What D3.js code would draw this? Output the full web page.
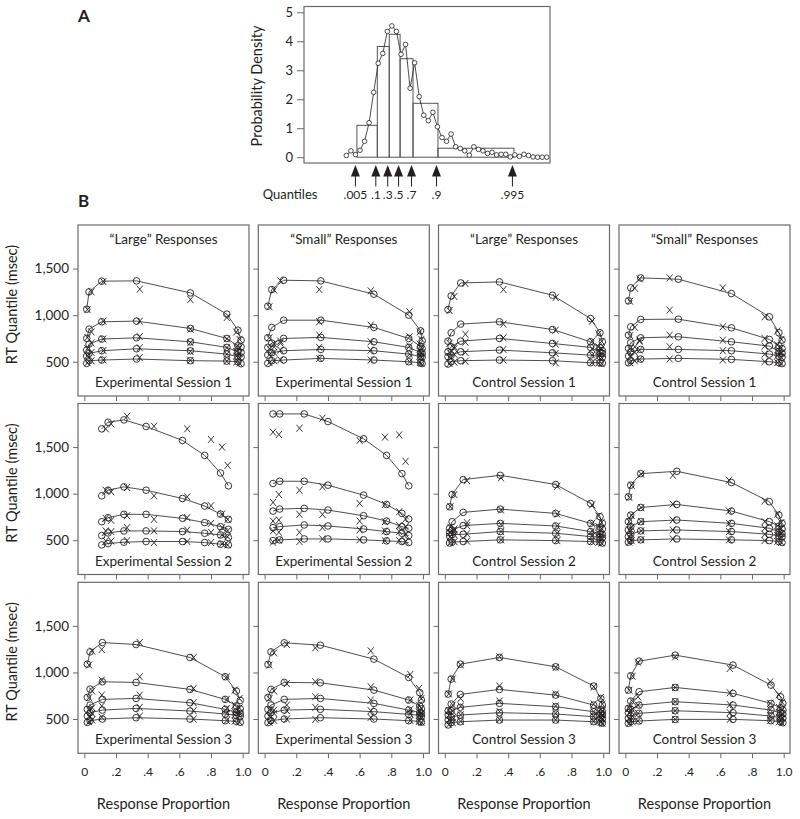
<!DOCTYPE html>
<html><head><meta charset="utf-8">
<script src="https://cdn.jsdelivr.net/npm/d3@7"></script>
<style>
body{margin:0;background:#fff}
text{font-family:Lato,"Open Sans",sans-serif;fill:#231f20}
</style>
</head><body>
<svg id="chart" width="800" height="819"></svg>
<script>
// ---------- Panel A data ----------
const densityRT = d3.range(45).map(i => 450 + 50 * i); // bin centres (ms)
const densityValues = [0.06,0.22,0.09,0.24,0.55,1.19,2.24,3.24,3.58,4.34,4.53,4.34,3.55,3.89,2.38,3.26,2.09,1.45,1.26,1.55,1.05,0.68,0.55,0.8,0.36,0.3,0.22,0.07,0.36,0.27,0.22,0.13,0.17,0.08,0.1,0.1,0.01,0.08,0.03,0.1,0.06,0.01,0,0,0];
const quantileRT = [566, 790, 921, 1040, 1182, 1456, 2290];
const quantileLabels = [".005", ".1", ".3", ".5", ".7", ".9", ".995"];
const histHeights = [1.1, 3.82, 4.24, 3.4, 1.86, 0.31];
const densityTicks = [0, 1, 2, 3, 4, 5];

// ---------- Panel B data (model = circles + lines, data = x marks) ----------
// quantile rows: .1, .3, .5, .7, .9
const expS1LargeModelP = [0.015,0.03,0.11,0.33,0.67,0.9,0.97,0.99];
const expS1LargeModelQ = [[482,511,518,529,511,507,500,478],[560,589,618,639,618,582,554,550],[625,689,743,757,714,654,605,600],[750,850,929,936,857,750,670,660],[1064,1250,1365,1368,1239,1011,839,732]];
const expS1LargeDataP = [0.02,0.045,0.12,0.35,0.67,0.9,0.96,0.98];
const expS1LargeDataQ = [[490,510,520,545,515,505,495,485],[565,600,620,650,610,580,560,545],[640,700,745,770,705,650,610,590],[760,820,935,936,850,745,660,650],[1060,1250,1360,1279,1168,975,818,740]];

const expS1SmallModelP = [0.02,0.045,0.12,0.355,0.69,0.91,0.985,0.995];
const expS1SmallModelQ = [[482,511,518,536,518,500,490,480],[571,596,618,632,618,582,555,550],[654,700,750,761,714,654,600,590],[757,868,946,946,868,750,665,640],[1096,1275,1375,1368,1225,1000,832,725]];
const expS1SmallDataP = [0.03,0.06,0.1,0.345,0.67,0.915,0.98,0.99];
const expS1SmallDataQ = [[490,510,520,536,518,500,490,480],[575,600,625,654,625,582,560,550],[640,660,700,786,714,668,610,595],[757,690,720,929,893,768,690,650],[1090,1270,1370,1275,1261,1036,821,740]];

const ctlS1LargeModelP = [0.02,0.04,0.1,0.345,0.68,0.92,0.98,0.995];
const ctlS1LargeModelQ = [[475,500,511,518,511,489,490,485],[554,571,607,625,596,571,555,550],[607,661,721,750,696,654,600,590],[721,811,904,929,846,714,650,620],[1061,1207,1346,1357,1214,964,811,714]];
const ctlS1LargeDataP = [0.03,0.06,0.13,0.37,0.7,0.93,0.97,0.99];
const ctlS1LargeDataQ = [[480,495,505,518,489,490,485,480],[550,580,600,632,589,570,560,545],[600,640,710,757,689,640,610,590],[700,661,796,904,839,720,660,640],[1050,1200,1340,1275,1189,935,800,720]];

const ctlS1SmallModelP = [0.02,0.034,0.097,0.335,0.67,0.91,0.97,0.99];
const ctlS1SmallModelQ = [[489,511,529,536,525,500,490,480],[561,607,632,632,618,582,560,550],[643,704,757,768,714,668,610,590],[786,875,954,957,864,739,670,640],[1154,1293,1400,1386,1232,982,811,732]];
const ctlS1SmallDataP = [0.03,0.06,0.09,0.28,0.616,0.88,0.96,0.985];
const ctlS1SmallDataQ = [[490,510,525,529,518,500,490,480],[560,600,625,661,618,582,565,550],[640,661,720,786,732,668,615,595],[780,870,732,1054,875,750,680,650],[1150,1290,1390,1400,1293,982,830,740]];

const expS2LargeModelP = [0.11,0.15,0.25,0.39,0.62,0.76,0.86,0.91];
const expS2LargeModelQ = [[450,464,479,486,486,475,457,450],[550,578,600,600,593,575,557,528],[699,742,778,778,735,689,646,617],[977,1037,1073,1037,948,867,781,724],[1696,1767,1792,1721,1571,1411,1222,1084]];
const expS2LargeDataP = [0.135,0.17,0.27,0.44,0.65,0.8,0.87,0.905];
const expS2LargeDataQ = [[493,493,496,475,486,475,461,450],[600,593,635,600,610,585,557,539],[735,713,763,724,742,681,635,600],[1037,1020,1066,977,966,870,781,724],[1696,1749,1831,1724,1696,1582,1500,1304]];

const expS2SmallModelP = [0.053,0.095,0.25,0.40,0.625,0.77,0.867,0.91];
const expS2SmallModelQ = [[496,504,514,514,504,493,486,475],[635,646,664,653,621,593,575,550],[813,835,842,824,763,706,646,628],[1109,1133,1133,1091,984,884,788,728],[1856,1856,1856,1774,1589,1411,1215,1084]];
const expS2SmallDataP = [0.053,0.09,0.22,0.365,0.6,0.76,0.85,0.89];
const expS2SmallDataQ = [[479,500,486,514,504,496,496,486],[600,585,585,635,610,600,593,564],[706,717,778,778,706,699,657,646],[906,991,1037,1073,895,884,806,728],[1660,1635,1703,1810,1571,1607,1631,1347]];

const ctlS2LargeModelP = [0.03,0.046,0.116,0.35,0.70,0.92,0.98,0.995];
const ctlS2LargeModelQ = [[470,480,486,504,496,486,480,470],[545,560,564,593,575,539,530,525],[580,610,657,681,653,593,570,560],[628,699,799,834,788,681,640,620],[859,991,1151,1197,1098,895,753,681]];
const ctlS2LargeDataP = [0.035,0.06,0.14,0.355,0.71,0.93,0.97,0.99];
const ctlS2LargeDataQ = [[475,485,490,504,496,486,478,470],[540,560,570,593,575,545,535,525],[580,605,657,671,653,600,575,560],[640,620,689,824,781,680,645,625],[860,990,1140,1170,1080,880,760,690]];

const ctlS2SmallModelP = [0.019,0.034,0.097,0.325,0.67,0.91,0.97,0.99];
const ctlS2SmallModelQ = [[479,496,504,514,504,496,485,475],[539,564,600,610,593,564,545,535],[610,646,699,717,681,628,590,570],[699,770,852,884,813,699,650,620],[966,1091,1215,1240,1119,913,770,681]];
const ctlS2SmallDataP = [0.025,0.04,0.1,0.3,0.655,0.88,0.96,0.985];
const ctlS2SmallDataQ = [[480,495,505,514,504,496,488,478],[540,560,600,610,593,564,548,538],[610,640,700,717,681,628,595,575],[700,765,850,888,813,699,655,625],[960,1090,1210,1197,1144,920,780,690]];

const expS3LargeModelP = [0.019,0.036,0.114,0.327,0.667,0.89,0.96,0.985];
const expS3LargeModelQ = [[464,482,500,514,500,482,475,465],[532,568,596,614,586,554,540,530],[604,650,711,721,675,604,575,560],[732,821,900,893,818,711,640,610],[1089,1221,1321,1300,1161,954,800,700]];
const expS3LargeDataP = [0.03,0.05,0.11,0.35,0.69,0.9,0.95,0.98];
const expS3LargeDataQ = [[470,490,520,532,500,485,478,468],[530,560,640,625,589,560,545,535],[600,620,757,757,675,614,580,565],[730,800,918,954,829,711,650,620],[1080,1230,1246,1321,1161,954,811,720]];

const expS3SmallModelP = [0.021,0.04,0.124,0.352,0.69,0.91,0.98,0.99];
const expS3SmallModelQ = [[461,482,500,514,500,482,475,465],[532,568,596,604,579,550,540,530],[604,650,711,721,668,596,570,560],[732,818,893,889,811,704,640,610],[1086,1221,1318,1293,1143,946,782,704]];
const expS3SmallDataP = [0.03,0.06,0.14,0.32,0.67,0.92,0.975,0.99];
const expS3SmallDataQ = [[465,485,500,496,518,485,475,465],[530,560,590,625,589,555,540,530],[600,596,650,739,704,604,575,560],[720,800,880,900,846,704,650,615],[1080,1210,1300,1264,1232,979,829,720]];

const ctlS3LargeModelP = [0.021,0.04,0.098,0.345,0.7,0.94,0.985,0.995];
const ctlS3LargeModelQ = [[436,461,471,489,489,471,465,455],[489,518,543,568,554,525,510,505],[543,589,625,668,632,579,555,545],[589,661,764,818,757,650,600,580],[768,929,1089,1161,1061,854,721,650]];
const ctlS3LargeDataP = [0.025,0.05,0.1,0.345,0.7,0.94,0.985,0.995];
const ctlS3LargeDataQ = [[440,460,475,496,492,472,465,455],[490,515,545,580,560,528,512,505],[540,585,640,693,640,580,558,548],[590,650,721,854,768,661,605,585],[770,930,1080,1168,1054,846,732,660]];

const ctlS3SmallModelP = [0.019,0.034,0.087,0.315,0.68,0.92,0.98,0.995];
const ctlS3SmallModelQ = [[454,471,479,496,496,482,470,460],[507,532,561,589,568,532,515,510],[568,604,650,686,650,596,565,555],[614,693,793,839,775,668,620,595],[811,964,1121,1186,1079,864,739,668]];
const ctlS3SmallDataP = [0.025,0.045,0.08,0.315,0.66,0.915,0.97,0.99];
const ctlS3SmallDataQ = [[455,470,480,496,496,482,470,460],[505,530,560,589,568,535,518,510],[565,600,650,686,655,600,570,558],[615,690,739,839,782,668,625,600],[810,960,1110,1168,1043,900,760,680]];

const columnTitles = ["\u201CLarge\u201D Responses","\u201CSmall\u201D Responses","\u201CLarge\u201D Responses","\u201CSmall\u201D Responses"];
const sessionLabels = [
  ["Experimental Session 1","Experimental Session 1","Control Session 1","Control Session 1"],
  ["Experimental Session 2","Experimental Session 2","Control Session 2","Control Session 2"],
  ["Experimental Session 3","Experimental Session 3","Control Session 3","Control Session 3"]];
const rtTicks = [500, 1000, 1500];
const propTicks = [0, 0.2, 0.4, 0.6, 0.8, 1.0];

const panelData = [
  [[expS1LargeModelP,expS1LargeModelQ,expS1LargeDataP,expS1LargeDataQ],[expS1SmallModelP,expS1SmallModelQ,expS1SmallDataP,expS1SmallDataQ],[ctlS1LargeModelP,ctlS1LargeModelQ,ctlS1LargeDataP,ctlS1LargeDataQ],[ctlS1SmallModelP,ctlS1SmallModelQ,ctlS1SmallDataP,ctlS1SmallDataQ]],
  [[expS2LargeModelP,expS2LargeModelQ,expS2LargeDataP,expS2LargeDataQ],[expS2SmallModelP,expS2SmallModelQ,expS2SmallDataP,expS2SmallDataQ],[ctlS2LargeModelP,ctlS2LargeModelQ,ctlS2LargeDataP,ctlS2LargeDataQ],[ctlS2SmallModelP,ctlS2SmallModelQ,ctlS2SmallDataP,ctlS2SmallDataQ]],
  [[expS3LargeModelP,expS3LargeModelQ,expS3LargeDataP,expS3LargeDataQ],[expS3SmallModelP,expS3SmallModelQ,expS3SmallDataP,expS3SmallDataQ],[ctlS3LargeModelP,ctlS3LargeModelQ,ctlS3LargeDataP,ctlS3LargeDataQ],[ctlS3SmallModelP,ctlS3SmallModelQ,ctlS3SmallDataP,ctlS3SmallDataQ]]];

// ---------- drawing ----------
const ink = "#231f20", frame = "#6a6a6a";
const svg = d3.select("#chart");

// Panel A
const aX = d3.scaleLinear().domain([-15, 2686]).range([304, 550]);
const aY = d3.scaleLinear().domain([-0.2, 5.2]).range([163, 6.5]);
const gA = svg.append("g");
gA.selectAll("rect.bar").data(histHeights).join("rect").attr("class","bar")
  .attr("x",(h,i)=>aX(quantileRT[i])).attr("width",(h,i)=>aX(quantileRT[i+1])-aX(quantileRT[i]))
  .attr("y",h=>aY(h)).attr("height",h=>aY(0)-aY(h))
  .attr("fill","none").attr("stroke","#555").attr("stroke-width",1);
const dens = densityRT.map((r,i)=>[r,densityValues[i]]);
gA.append("path").datum(dens).attr("d",d3.line().x(d=>aX(d[0])).y(d=>aY(d[1])))
  .attr("fill","none").attr("stroke",ink).attr("stroke-width",0.8);
gA.selectAll("circle").data(dens).join("circle").attr("cx",d=>aX(d[0])).attr("cy",d=>aY(d[1]))
  .attr("r",2.3).attr("fill","#fff").attr("stroke",ink).attr("stroke-width",0.8);
gA.append("rect").attr("x",304).attr("y",6.5).attr("width",246).attr("height",156.5)
  .attr("fill","none").attr("stroke",frame).attr("stroke-width",1.2);
const ayAxis = gA.append("g").attr("transform","translate(304,0)")
  .call(d3.axisLeft(aY).tickValues(densityTicks).tickFormat(d3.format("d")).tickSize(7).tickPadding(4).tickSizeOuter(0));
ayAxis.select(".domain").remove();
ayAxis.selectAll("line").attr("stroke",frame);
ayAxis.selectAll("text").attr("font-size",13).attr("font-family","Lato").attr("fill",ink);
gA.append("text").attr("transform","translate(262,86) rotate(-90)").attr("text-anchor","middle")
  .attr("font-size",14.5).text("Probability Density");
// quantile arrows
quantileRT.forEach((q,i)=>{
  const x = aX(q) - 1.5;
  gA.append("path").attr("d",`M${x},165L${x-4.5},176.5L${x+4.5},176.5Z`).attr("fill",ink);
  gA.append("line").attr("x1",x).attr("x2",x).attr("y1",176).attr("y2",186.5).attr("stroke",ink).attr("stroke-width",1);
  gA.append("text").attr("x",x).attr("y",199).attr("text-anchor","middle").attr("font-size",12).text(quantileLabels[i]);
});
gA.append("text").attr("x",290).attr("y",199).attr("text-anchor","middle").attr("font-size",13).text("Quantiles");
svg.append("text").attr("x",78).attr("y",22).attr("font-size",17).attr("font-weight","bold").text("A");
svg.append("text").attr("x",78).attr("y",207).attr("font-size",17).attr("font-weight","bold").text("B");

// Panel B grid
const colLeft = [78, 258.3, 438.5, 619], rowTop = [225, 403.5, 582.3];
const pw = 171, ph = 171;
const xS = d3.scaleLinear().domain([-0.04, 1.04]).range([0, pw]);
const yS = d3.scaleLinear().domain([132, 1968]).range([ph, 0]);
const propFmt = v => v === 0 ? "0" : v === 1 ? "1.0" : d3.format(".1f")(v).replace(/^0/, "");
const xMark = "M-3,-3.5L3,3.5M3,-3.5L-3,3.5";

panelData.forEach((row, r) => row.forEach((pd, c) => {
  const [mp, mq, dp, dq] = pd;
  const g = svg.append("g").attr("transform",`translate(${colLeft[c]},${rowTop[r]})`);
  // axes
  const xa = g.append("g").attr("transform",`translate(0,${ph})`)
    .call(d3.axisBottom(xS).tickValues(propTicks).tickSize(5).tickPadding(9).tickSizeOuter(0)
      .tickFormat(r === 2 ? propFmt : () => ""));
  xa.select(".domain").remove();
  xa.selectAll("line").attr("stroke",frame);
  xa.selectAll("text").attr("font-size",12).attr("font-family","Lato").attr("fill",ink);
  const ya = g.append("g")
    .call(d3.axisLeft(yS).tickValues(rtTicks).tickSize(5).tickPadding(4).tickSizeOuter(0)
      .tickFormat(c === 0 ? d3.format(",") : () => ""));
  ya.select(".domain").remove();
  ya.selectAll("line").attr("stroke",frame);
  ya.selectAll("text").attr("font-size",13.5).attr("font-family","Lato").attr("fill",ink);
  // model lines and circles
  mq.forEach(q => {
    const pts = mp.map((p,i)=>[p,q[i]]);
    g.append("path").datum(pts).attr("d",d3.line().x(d=>xS(d[0])).y(d=>yS(d[1])))
      .attr("fill","none").attr("stroke",ink).attr("stroke-width",0.8);
    g.selectAll(null).data(pts).join("circle").attr("cx",d=>xS(d[0])).attr("cy",d=>yS(d[1]))
      .attr("r",3.3).attr("fill","none").attr("stroke",ink).attr("stroke-width",0.9);
  });
  // data x marks
  dq.forEach(q => {
    g.selectAll(null).data(dp.map((p,i)=>[p,q[i]])).join("path")
      .attr("transform",d=>`translate(${xS(d[0])},${yS(d[1])})`).attr("d",xMark)
      .attr("fill","none").attr("stroke",ink).attr("stroke-width",0.9);
  });
  // frame
  g.append("rect").attr("width",pw).attr("height",ph).attr("fill","none").attr("stroke",frame).attr("stroke-width",1.2);
  if (r === 0) g.append("text").attr("x",pw/2).attr("y",19).attr("text-anchor","middle").attr("font-size",13.5).text(columnTitles[c]);
  g.append("text").attr("x",pw/2).attr("y",162).attr("text-anchor","middle").attr("font-size",13.5).text(sessionLabels[r][c]);
  if (c === 0) g.append("text").attr("transform",`translate(-61,${ph/2-6}) rotate(-90)`).attr("text-anchor","middle")
      .attr("font-size",14.5).text("RT Quantile (msec)");
  if (r === 2) g.append("text").attr("x",pw/2).attr("y",ph+56).attr("text-anchor","middle").attr("font-size",14.5).text("Response Proportion");
}));
</script>
</body></html>
